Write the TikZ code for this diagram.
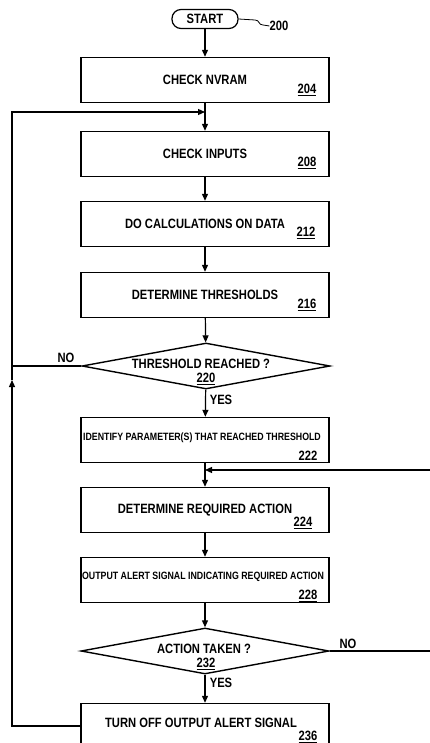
\documentclass[tikz,border=0pt]{standalone}
\usepackage{fontspec}
\newfontfamily\patfont{Liberation Sans}[FakeStretch=0.83]
\usepackage{tikz}
\usetikzlibrary{arrows.meta, shapes.geometric}

\tikzset{
  every node/.style={font=\patfont\bfseries\fontsize{13.5}{15}\selectfont, inner sep=0pt},
  stepbox/.style={draw, line width=1.4pt, minimum width=248pt, minimum height=45pt},
  decide/.style={draw, diamond, line width=1.4pt, minimum width=248pt, minimum height=46pt},
  pill/.style={draw, rounded corners=9pt, line width=1.2pt, minimum width=66pt, minimum height=19pt},
  smalltext/.style={font=\patfont\bfseries\fontsize{10.6}{12}\selectfont},
  num/.style={},
  flow/.style={line width=1.2pt, -{Triangle[length=7pt,width=6pt]}},
  line/.style={line width=1.2pt}
}

\begin{document}
\begin{tikzpicture}[x=1pt, y=-1pt]
                    \useasboundingbox (0,0) rectangle (429,743);
                    % Start
                    \node[pill] (start) at (205,19) {START};
                    \node (l200) at (279,26) {200};
                    \draw[line width=0.8pt] (start.east) -- (255,20) .. controls (260,20) and (258,25) .. (263,25) -- (l200.west);
                    % Boxes
                    \node[stepbox] (b204) at (205,80) {CHECK NVRAM};
                    \node[stepbox] (b208) at (205,154) {CHECK INPUTS};
                    \node[stepbox] (b212) at (205,224) {DO CALCULATIONS ON DATA};
                    \node[stepbox] (b216) at (205,295) {DETERMINE THRESHOLDS};
                    \node[stepbox] (b222) at (205,440) {};
                    \node[stepbox] (b224) at (205,510) {DETERMINE REQUIRED ACTION};
                    \node[stepbox] (b228) at (205,580) {};
                    \node[stepbox] (b236) at (205,726) {};
                    \node[smalltext] (t222) at (202,438) {IDENTIFY PARAMETER(S) THAT REACHED THRESHOLD};
                    \node[smalltext] (t228) at (203,577) {OUTPUT ALERT SIGNAL INDICATING REQUIRED ACTION};
                    \node (t236) at (201,723) {TURN OFF OUTPUT ALERT SIGNAL};
                    % Decisions
                    \node[decide] (d220) at (206,366) {};
                    \node (t220) at (201,364) {THRESHOLD REACHED ?};
                    \node[decide] (d232) at (205,651) {};
                    \node (t232) at (204,649) {ACTION TAKEN ?};
                    % Numbers
                    \node[num] (n204) at (307,90) {\underline{204}};
                    \node[num] (n208) at (307,163) {\underline{208}};
                    \node[num] (n212) at (306,233) {\underline{212}};
                    \node[num] (n216) at (307,305) {\underline{216}};
                    \node[num] (n220) at (206,379) {\underline{220}};
                    \node[num] (n222) at (308,457) {\underline{222}};
                    \node[num] (n224) at (303,523) {\underline{224}};
                    \node[num] (n228) at (308,596) {\underline{228}};
                    \node[num] (n232) at (206,664) {\underline{232}};
                    \node[num] (n236) at (308,737) {\underline{236}};
                    % Junctions
                    \coordinate (j1) at (205,112);
                    \coordinate (j2) at (205,470);
                    \coordinate (lft) at (12,380);
                    \coordinate (rgt) at (436,470);
                    % Main flow
                    \draw[flow] (start) -- (b204);
                    \draw[flow] (b204) -- (b208);
                    \draw[flow] (b208) -- (b212);
                    \draw[flow] (b212) -- (b216);
                    \draw[flow] (b216) -- (d220);
                    \draw[flow] (d220) -- (b222);
                    \draw[flow] (b222) -- (b224);
                    \draw[flow] (b224) -- (b228);
                    \draw[flow] (b228) -- (d232);
                    \draw[flow] (d232) -- (b236);
                    % Loops
                    \draw[line] (d220.west) -- (d220.west -| lft);
                    \draw[flow] (b236.west) -| (lft);
                    \draw[flow] (lft) |- (j1);
                    \draw[flow] (d232.east) -| (rgt) -- (j2);
                    % Labels
                    \node (no220) at (66,358) {NO};
                    \node (yes220) at (221,400) {YES};
                    \node (no232) at (348,644) {NO};
                    \node (yes232) at (221,683) {YES};
\end{tikzpicture}
\end{document}
